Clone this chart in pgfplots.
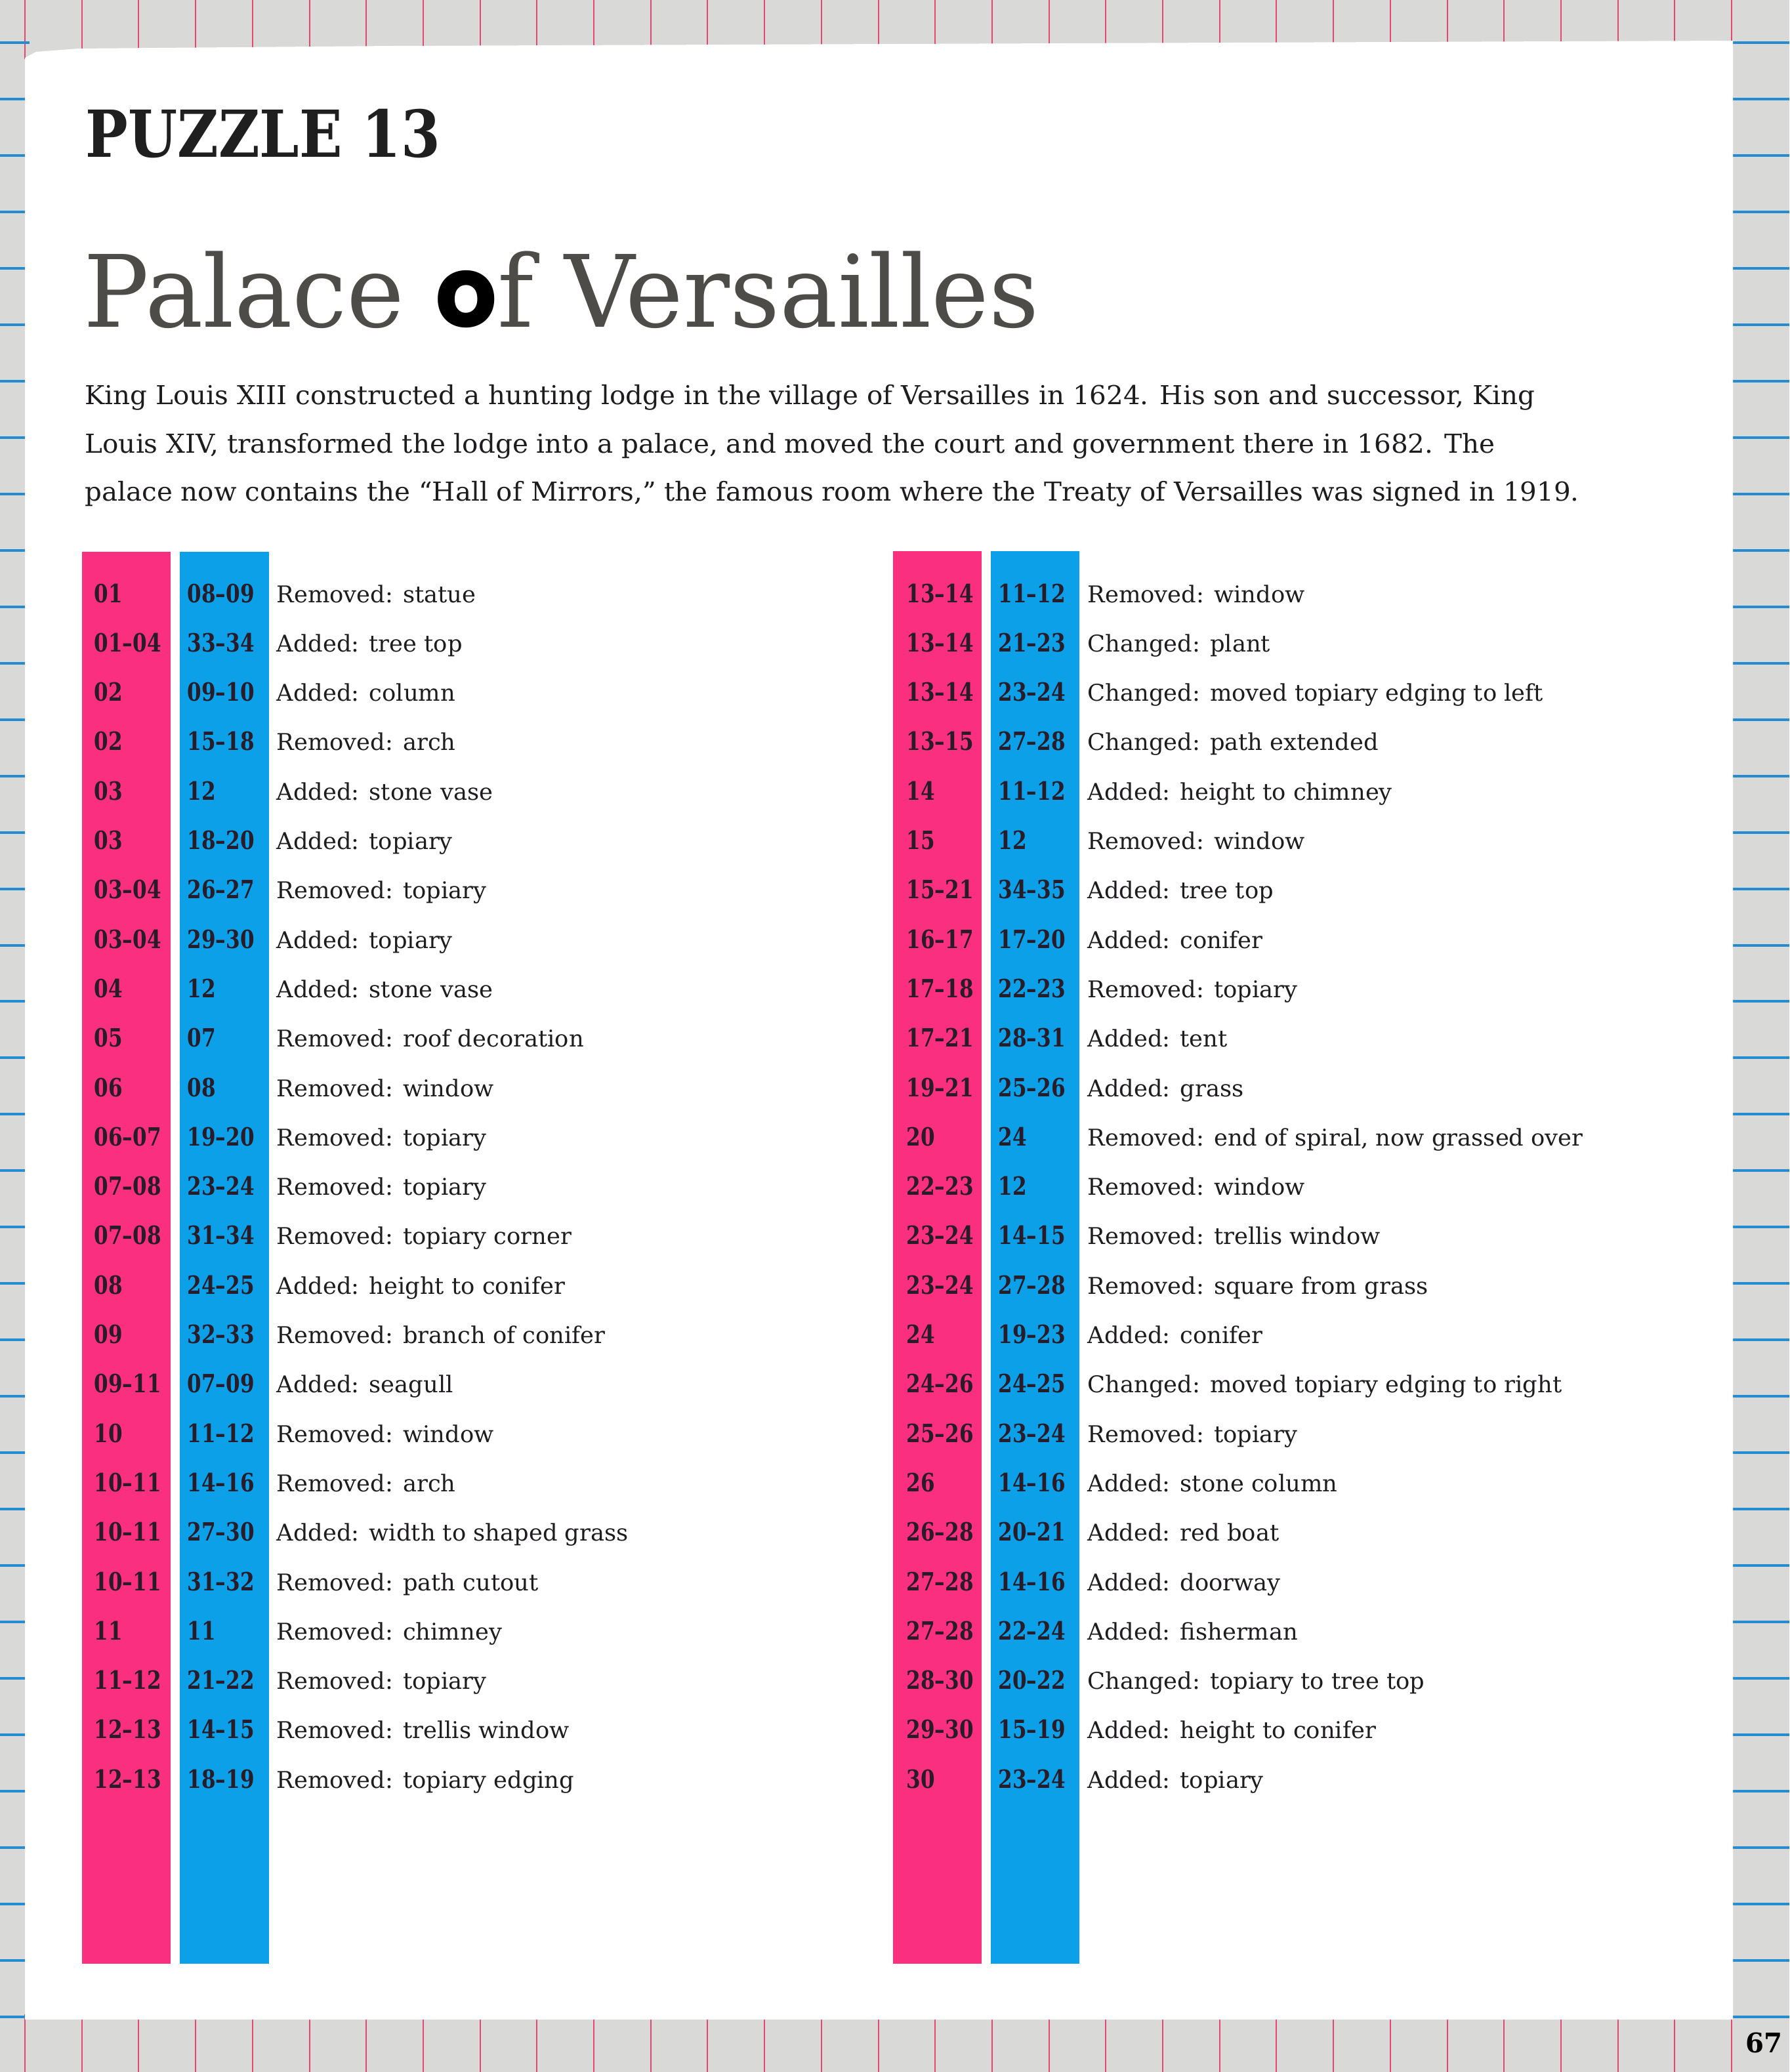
\documentclass[border=0pt]{standalone}
\usepackage{fontspec}
\setmainfont{DejaVu Serif}
\newfontfamily\poppfont{Poppins}
\usepackage{graphicx}
\usepackage{pgfplots}
\pgfplotsset{compat=1.18}

\definecolor{pagegrey}{RGB}{217,217,215}
\definecolor{linered}{RGB}{226,72,112}
\definecolor{lineblue}{RGB}{38,140,210}
\definecolor{pinkcol}{RGB}{251,47,128}
\definecolor{bluecol}{RGB}{12,160,232}
\definecolor{txt}{RGB}{30,28,30}
\definecolor{numtxt}{RGB}{40,28,40}
\definecolor{titlegrey}{RGB}{78,76,72}

\newlength\calw
\newcommand\descfont{\fontsize{10pt}{12pt}\selectfont}
\newcommand\numfont{\fontsize{10.9pt}{13pt}\selectfont\bfseries}
\newcommand\introfont{\fontsize{11.3pt}{13pt}\selectfont}
\newcommand\D[1]{\scalebox{\descsx}[1]{\descfont #1}}
\newcommand\N[1]{\scalebox{\numsx}[1]{\numfont #1}}

\tikzset{
  numnode/.style={anchor=base west, inner sep=0pt, text=numtxt},
  descnode/.style={anchor=base west, inner sep=0pt, text=txt},
}
% left group row
\newcommand\lrow[4]{%
  \node[numnode] at (axis cs:143,{918+75.3*#1}) {\N{#2}};
  \node[numnode] at (axis cs:285,{918+75.3*#1}) {\N{#3}};
  \node[descnode] at (axis cs:421,{918+75.3*#1}) {\D{#4}};}
% right group row
\newcommand\rrow[4]{%
  \node[numnode] at (axis cs:1381,{918+75.3*#1}) {\N{#2}};
  \node[numnode] at (axis cs:1521,{918+75.3*#1}) {\N{#3}};
  \node[descnode] at (axis cs:1657,{918+75.3*#1}) {\D{#4}};}

\begin{document}%
\settowidth\calw{\descfont Removed: end of spiral, now grassed over}%
\pgfmathsetmacro\descsx{75.5mm/\the\calw}%
\settowidth\calw{\numfont 08–09}%
\pgfmathsetmacro\numsx{10.2mm/\the\calw}%
\begin{tikzpicture}
\begin{axis}[
  width=272.7mm, height=315.8mm, scale only axis,
  xmin=0, xmax=2727, ymin=0, ymax=3158, y dir=reverse,
  hide axis, clip=true,
]
% grey paper
\addplot[fill=pagegrey, draw=none] coordinates {(0,0) (2727,0) (2727,3158) (0,3158)} -- cycle;
% red vertical rules (top and bottom strips)
\pgfplotsinvokeforeach{38,125,211,298,385,472,558,645,732,818,905,992,1078,1165,1252,1339,1425,1512,1599,1685,1772,1859,1945,2032,2119,2206,2292,2379,2466,2552,2639}{
  \addplot[linered, line width=0.6pt] coordinates {(#1,0) (#1,90)};
  \addplot[linered, line width=0.6pt] coordinates {(#1,3070) (#1,3158)};
}
% blue horizontal rules (left and right strips)
\pgfplotsinvokeforeach{65,151,237,323,409,495,581,667,753,839,925,1011,1097,1183,1269,1355,1441,1526,1612,1698,1784,1870,1956,2042,2128,2214,2300,2386,2472,2558,2644,2730,2816,2902,2988,3074}{
  \addplot[lineblue, line width=0.9pt] coordinates {(0,#1) (45,#1)};
  \addplot[lineblue, line width=0.9pt] coordinates {(2638,#1) (2727,#1)};
}
% white page
\addplot[fill=white, draw=none] coordinates {(38,88) (55,79) (120,74) (600,70) (2641,62) (2641,3078) (38,3078)} -- cycle;
% colour columns
\addplot[fill=pinkcol, draw=none] coordinates {(125,841) (260,841) (260,2993) (125,2993)} -- cycle;
\addplot[fill=bluecol, draw=none] coordinates {(274,841) (410,841) (410,2993) (274,2993)} -- cycle;
\addplot[fill=pinkcol, draw=none] coordinates {(1361,840) (1496,840) (1496,2993) (1361,2993)} -- cycle;
\addplot[fill=bluecol, draw=none] coordinates {(1510,840) (1645,840) (1645,2993) (1510,2993)} -- cycle;

% titles
\node[anchor=base west, inner sep=0pt, text=black!88] at (axis cs:130,240)
  {\resizebox{54.1mm}{\height}{\fontsize{28.1pt}{30pt}\selectfont\bfseries PUZZLE 13}};
\node[anchor=base west, inner sep=0pt, text=titlegrey] at (axis cs:127,498)
  {\resizebox{145.6mm}{\height}{\fontsize{43.3pt}{46pt}\selectfont Palace {\color{black}\poppfont\bfseries o}f Versailles}};
% intro
\node[anchor=base west, inner sep=0pt, text=txt] at (axis cs:129,616)
  {\resizebox{221.0mm}{\height}{\introfont King Louis XIII constructed a hunting lodge in the village of Versailles in 1624. His son and successor, King}};
\node[anchor=base west, inner sep=0pt, text=txt] at (axis cs:129,690)
  {\resizebox{214.9mm}{\height}{\introfont Louis XIV, transformed the lodge into a palace, and moved the court and government there in 1682. The}};
\node[anchor=base west, inner sep=0pt, text=txt] at (axis cs:129,763)
  {\resizebox{227.7mm}{\height}{\introfont palace now contains the “Hall of Mirrors,” the famous room where the Treaty of Versailles was signed in 1919.}};

% left table
\lrow{0}{01}{08–09}{Removed: statue}
\lrow{1}{01–04}{33–34}{Added: tree top}
\lrow{2}{02}{09–10}{Added: column}
\lrow{3}{02}{15–18}{Removed: arch}
\lrow{4}{03}{12}{Added: stone vase}
\lrow{5}{03}{18–20}{Added: topiary}
\lrow{6}{03–04}{26–27}{Removed: topiary}
\lrow{7}{03–04}{29–30}{Added: topiary}
\lrow{8}{04}{12}{Added: stone vase}
\lrow{9}{05}{07}{Removed: roof decoration}
\lrow{10}{06}{08}{Removed: window}
\lrow{11}{06–07}{19–20}{Removed: topiary}
\lrow{12}{07–08}{23–24}{Removed: topiary}
\lrow{13}{07–08}{31–34}{Removed: topiary corner}
\lrow{14}{08}{24–25}{Added: height to conifer}
\lrow{15}{09}{32–33}{Removed: branch of conifer}
\lrow{16}{09–11}{07–09}{Added: seagull}
\lrow{17}{10}{11–12}{Removed: window}
\lrow{18}{10–11}{14–16}{Removed: arch}
\lrow{19}{10–11}{27–30}{Added: width to shaped grass}
\lrow{20}{10–11}{31–32}{Removed: path cutout}
\lrow{21}{11}{11}{Removed: chimney}
\lrow{22}{11–12}{21–22}{Removed: topiary}
\lrow{23}{12–13}{14–15}{Removed: trellis window}
\lrow{24}{12–13}{18–19}{Removed: topiary edging}

% right table
\rrow{0}{13–14}{11–12}{Removed: window}
\rrow{1}{13–14}{21–23}{Changed: plant}
\rrow{2}{13–14}{23–24}{Changed: moved topiary edging to left}
\rrow{3}{13–15}{27–28}{Changed: path extended}
\rrow{4}{14}{11–12}{Added: height to chimney}
\rrow{5}{15}{12}{Removed: window}
\rrow{6}{15–21}{34–35}{Added: tree top}
\rrow{7}{16–17}{17–20}{Added: conifer}
\rrow{8}{17–18}{22–23}{Removed: topiary}
\rrow{9}{17–21}{28–31}{Added: tent}
\rrow{10}{19–21}{25–26}{Added: grass}
\rrow{11}{20}{24}{Removed: end of spiral, now grassed over}
\rrow{12}{22–23}{12}{Removed: window}
\rrow{13}{23–24}{14–15}{Removed: trellis window}
\rrow{14}{23–24}{27–28}{Removed: square from grass}
\rrow{15}{24}{19–23}{Added: conifer}
\rrow{16}{24–26}{24–25}{Changed: moved topiary edging to right}
\rrow{17}{25–26}{23–24}{Removed: topiary}
\rrow{18}{26}{14–16}{Added: stone column}
\rrow{19}{26–28}{20–21}{Added: red boat}
\rrow{20}{27–28}{14–16}{Added: doorway}
\rrow{21}{27–28}{22–24}{Added: fisherman}
\rrow{22}{28–30}{20–22}{Changed: topiary to tree top}
\rrow{23}{29–30}{15–19}{Added: height to conifer}
\rrow{24}{30}{23–24}{Added: topiary}

% page number
\node[anchor=base west, inner sep=0pt, text=black] at (axis cs:2660,3128)
  {\resizebox{5.6mm}{\height}{\fontsize{11.7pt}{13pt}\selectfont\bfseries 67}};
\end{axis}
\pgfresetboundingbox
\path[use as bounding box] (current axis.south west) rectangle (current axis.north east);
\end{tikzpicture}%
\end{document}
